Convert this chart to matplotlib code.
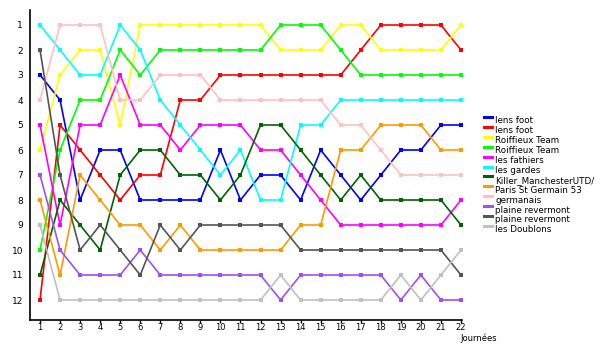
import matplotlib
matplotlib.use("Agg")
import matplotlib.pyplot as plt
from matplotlib.lines import Line2D

days = list(range(1, 23))
names = ["lens foot", "lens foot", "Roiffieux Team", "Roiffieux Team", "les fathiers",
         "les gardes", "Killer_ManchesterUTD/", "Paris St Germain 53", "germanais",
         "plaine revermont", "plaine revermont", "les Doublons"]
colors = ["#0000FF", "#FF0000", "#FFFF00", "#00FF00", "#FF00FF", "#00FFFF",
          "#006400", "#FF9900", "#FFC0C0", "#A050F0", "#555555", "#C0C0C0"]

lens_foot_1 = [3, 4, 8, 6, 6, 8, 8, 8, 8, 6, 8, 7, 7, 8, 6, 7, 8, 7, 6, 6, 5, 5]
lens_foot_2 = [12, 5, 6, 7, 8, 7, 7, 4, 4, 3, 3, 3, 3, 3, 3, 3, 2, 1, 1, 1, 1, 2]
roiffieux_1 = [6, 3, 2, 2, 5, 1, 1, 1, 1, 1, 1, 1, 2, 2, 2, 1, 1, 2, 2, 2, 2, 1]
roiffieux_2 = [10, 6, 4, 4, 2, 3, 2, 2, 2, 2, 2, 2, 1, 1, 1, 2, 3, 3, 3, 3, 3, 3]
fathiers = [5, 9, 5, 5, 3, 5, 5, 6, 5, 5, 5, 6, 6, 7, 8, 9, 9, 9, 9, 9, 9, 8]
gardes = [1, 2, 3, 3, 1, 2, 4, 5, 6, 7, 6, 8, 8, 5, 5, 4, 4, 4, 4, 4, 4, 4]
killer = [11, 8, 9, 10, 7, 6, 6, 7, 7, 8, 7, 5, 5, 6, 7, 8, 7, 8, 8, 8, 8, 9]
psg53 = [8, 11, 7, 8, 9, 9, 10, 9, 10, 10, 10, 10, 10, 9, 9, 6, 6, 5, 5, 5, 6, 6]
germanais = [4, 1, 1, 1, 4, 4, 3, 3, 3, 4, 4, 4, 4, 4, 4, 5, 5, 6, 7, 7, 7, 7]
plaine_1 = [7, 10, 11, 11, 11, 10, 11, 11, 11, 11, 11, 11, 12, 11, 11, 11, 11, 11, 12, 11, 12, 12]
plaine_2 = [2, 7, 10, 9, 10, 11, 9, 10, 9, 9, 9, 9, 9, 10, 10, 10, 10, 10, 10, 10, 10, 11]
doublons = [9, 12, 12, 12, 12, 12, 12, 12, 12, 12, 12, 12, 11, 12, 12, 12, 12, 12, 11, 12, 11, 10]

series = [lens_foot_1, lens_foot_2, roiffieux_1, roiffieux_2, fathiers, gardes,
          killer, psg53, germanais, plaine_1, plaine_2, doublons]

W, H = 600, 350
fig = plt.figure(figsize=(6, 3.5), dpi=100)
ax = fig.add_axes([30 / W, 1 - 320 / H, (462 - 30) / W, (320 - 10) / H])

for vals, col in zip(series, colors):
    ax.plot(days, vals, color=col, lw=1.2, marker="s", markersize=2.6,
            markeredgewidth=0, solid_joinstyle="miter")

ax.set_xlim(0.5, 22.05)
ax.set_ylim(12.8, 0.4)
ax.set_xticks(days)
ax.set_xticklabels([str(d) for d in days], fontsize=6)
ax.set_yticks(range(1, 13))
ax.set_yticklabels([str(r) for r in range(1, 13)], fontsize=6.5)
ax.tick_params(axis="x", length=2, width=1, pad=0.5)
ax.tick_params(axis="y", length=0, pad=5)
for s in ["top", "right"]:
    ax.spines[s].set_visible(False)
for s in ["left", "bottom"]:
    ax.spines[s].set_linewidth(1.2)

fig.text(460 / W, 1 - 338 / H, "Journées", fontsize=6, ha="left", va="center")

# legend
for i, (name, col) in enumerate(zip(names, colors)):
    yt = 121 + 9.9 * i
    fig.add_artist(Line2D([484 / W, 492 / W], [1 - (yt - 4) / H] * 2,
                          color=col, lw=2.2, transform=fig.transFigure))
    fig.text(495 / W, 1 - yt / H, name, fontsize=6.3, ha="left", va="center")

fig.savefig("out.png", dpi=100)
